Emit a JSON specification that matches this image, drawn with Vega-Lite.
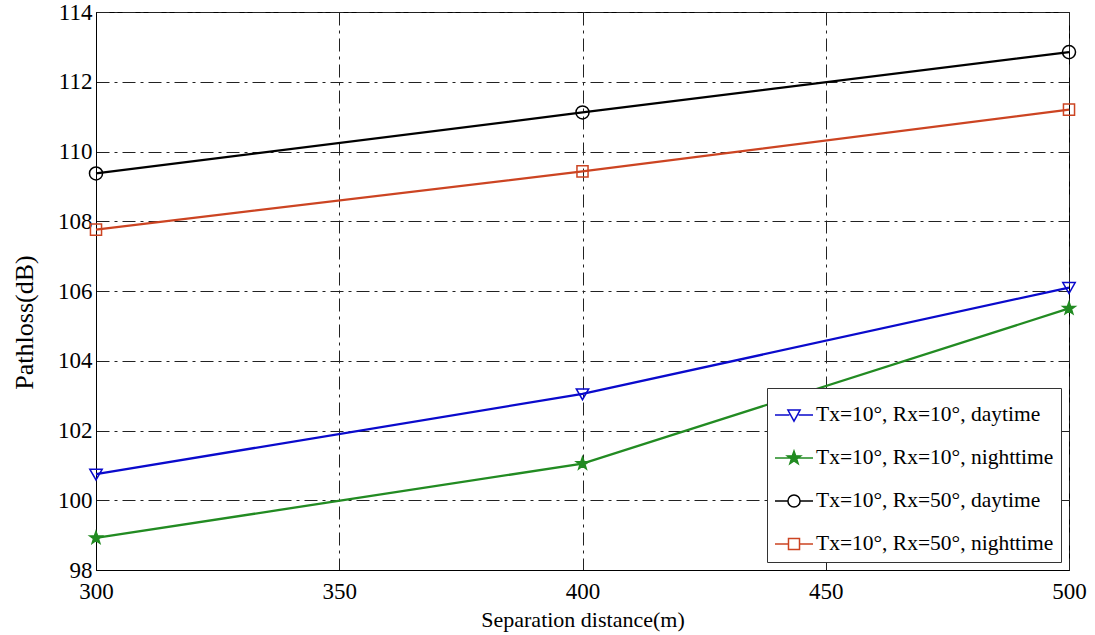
{
  "$schema": "https://vega.github.io/schema/vega-lite/v6.json",
  "autosize": {"type": "none"},
  "width": 973,
  "height": 558,
  "padding": {"left": 96, "top": 12, "right": 26, "bottom": 65},
  "background": "white",
  "config": {
    "view": {"stroke": "black", "strokeWidth": 1},
    "font": "Liberation Serif",
    "axis": {
      "labelFont": "Liberation Serif",
      "labelFontSize": 23,
      "labelColor": "black",
      "titleFont": "Liberation Serif",
      "titleFontSize": 22,
      "titleFontWeight": "normal",
      "titleColor": "black",
      "domainColor": "black",
      "ticks": false,
      "gridColor": "#222222",
      "gridOpacity": 1,
      "gridWidth": 1,
      "gridDash": [13, 5, 3, 5]
    },
    "legend": {
      "title": null,
      "orient": "bottom-right",
      "offset": 8,
      "padding": 7,
      "strokeColor": "#333333",
      "fillColor": "white",
      "labelFont": "Liberation Serif",
      "labelFontSize": 21.5,
      "labelColor": "black",
      "labelLimit": 400,
      "labelOffset": 2,
      "symbolSize": 1444,
      "symbolStrokeWidth": 1.5,
      "symbolOpacity": 1,
      "rowPadding": 12
    }
  },
  "data": {
    "values": [
      {"distance": 300, "pathloss": 100.75, "series": "Tx=10°, Rx=10°, daytime"},
      {"distance": 400, "pathloss": 103.05, "series": "Tx=10°, Rx=10°, daytime"},
      {"distance": 500, "pathloss": 106.1, "series": "Tx=10°, Rx=10°, daytime"},
      {"distance": 300, "pathloss": 98.92, "series": "Tx=10°, Rx=10°, nighttime"},
      {"distance": 400, "pathloss": 101.05, "series": "Tx=10°, Rx=10°, nighttime"},
      {"distance": 500, "pathloss": 105.5, "series": "Tx=10°, Rx=10°, nighttime"},
      {"distance": 300, "pathloss": 109.37, "series": "Tx=10°, Rx=50°, daytime"},
      {"distance": 400, "pathloss": 111.12, "series": "Tx=10°, Rx=50°, daytime"},
      {"distance": 500, "pathloss": 112.85, "series": "Tx=10°, Rx=50°, daytime"},
      {"distance": 300, "pathloss": 107.76, "series": "Tx=10°, Rx=50°, nighttime"},
      {"distance": 400, "pathloss": 109.43, "series": "Tx=10°, Rx=50°, nighttime"},
      {"distance": 500, "pathloss": 111.2, "series": "Tx=10°, Rx=50°, nighttime"}
    ]
  },
  "encoding": {
    "x": {
      "field": "distance",
      "type": "quantitative",
      "scale": {"domain": [300, 500], "nice": false, "zero": false},
      "axis": {
        "title": "Separation distance(m)",
        "values": [300, 350, 400, 450, 500],
        "format": "d",
        "labelPadding": 10,
        "titlePadding": 6,
        "labelFlush": false
      }
    },
    "y": {
      "field": "pathloss",
      "type": "quantitative",
      "scale": {"domain": [98, 114], "nice": false, "zero": false},
      "axis": {
        "title": "Pathloss(dB)",
        "titleFontSize": 26,
        "titleY": 310,
        "values": [98, 100, 102, 104, 106, 108, 110, 112, 114],
        "format": "d",
        "labelPadding": 4,
        "titlePadding": 20
      }
    }
  },
  "layer": [
    {
      "mark": {"type": "line", "strokeWidth": 2.3},
      "encoding": {
        "color": {
          "field": "series",
          "type": "nominal",
          "scale": {
            "domain": ["Tx=10°, Rx=10°, daytime", "Tx=10°, Rx=10°, nighttime", "Tx=10°, Rx=50°, daytime", "Tx=10°, Rx=50°, nighttime"],
            "range": ["#0A0ACC", "#228B22", "#000000", "#CC4422"]
          },
          "legend": null
        }
      }
    },
    {
      "mark": {"type": "point", "size": 170, "strokeWidth": 1.5, "opacity": 1},
      "encoding": {
        "color": {"field": "series", "type": "nominal", "legend": null},
        "shape": {
          "field": "series",
          "type": "nominal",
          "scale": {
            "domain": ["Tx=10°, Rx=10°, daytime", "Tx=10°, Rx=10°, nighttime", "Tx=10°, Rx=50°, daytime", "Tx=10°, Rx=50°, nighttime"],
            "range": [
              "M-0.95,-0.75H0.95L0,0.9Z",
              "M0,-1L0.235,-0.324L0.951,-0.309L0.380,0.124L0.588,0.809L0,0.4L-0.588,0.809L-0.380,0.124L-0.951,-0.309L-0.235,-0.324Z",
              "circle",
              "M-0.85,-0.85H0.85V0.85H-0.85Z"
            ]
          },
          "legend": null
        },
        "fill": {
          "field": "series",
          "type": "nominal",
          "scale": {
            "domain": ["Tx=10°, Rx=10°, daytime", "Tx=10°, Rx=10°, nighttime", "Tx=10°, Rx=50°, daytime", "Tx=10°, Rx=50°, nighttime"],
            "range": ["transparent", "#228B22", "transparent", "transparent"]
          },
          "legend": null
        }
      }
    },
    {
      "mark": {"type": "point", "opacity": 0, "strokeWidth": 1.5},
      "encoding": {
        "stroke": {
          "field": "series",
          "type": "nominal",
          "scale": {
            "domain": ["Tx=10°, Rx=10°, daytime", "Tx=10°, Rx=10°, nighttime", "Tx=10°, Rx=50°, daytime", "Tx=10°, Rx=50°, nighttime"],
            "range": ["#0A0ACC", "#228B22", "#000000", "#CC4422"]
          },
          "legend": {}
        },
        "shape": {
          "field": "series",
          "type": "nominal",
          "scale": {
            "domain": ["Tx=10°, Rx=10°, daytime", "Tx=10°, Rx=10°, nighttime", "Tx=10°, Rx=50°, daytime", "Tx=10°, Rx=50°, nighttime"],
            "range": [
              "M-1,0H-0.24M0.24,0H1M-0.32,-0.26H0.32L0,0.32Z",
              "M-1,0H1M0,-0.37L0.087,-0.12L0.352,-0.114L0.141,0.046L0.218,0.299L0,0.148L-0.218,0.299L-0.141,0.046L-0.352,-0.114L-0.087,-0.12Z",
              "M-1,0H-0.32M0.32,0H1M-0.32,0A0.32,0.32,0,1,1,0.32,0A0.32,0.32,0,1,1,-0.32,0Z",
              "M-1,0H-0.29M0.29,0H1M-0.29,-0.29H0.29V0.29H-0.29Z"
            ]
          },
          "legend": {}
        },
        "fill": {
          "field": "series",
          "type": "nominal",
          "scale": {
            "domain": ["Tx=10°, Rx=10°, daytime", "Tx=10°, Rx=10°, nighttime", "Tx=10°, Rx=50°, daytime", "Tx=10°, Rx=50°, nighttime"],
            "range": ["transparent", "#228B22", "transparent", "transparent"]
          },
          "legend": {}
        }
      }
    }
  ],
  "resolve": {"scale": {"stroke": "independent", "shape": "independent", "fill": "independent"}}
}
